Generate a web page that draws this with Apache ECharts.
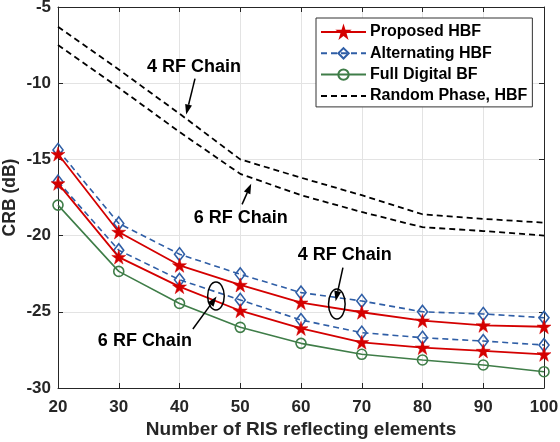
<!DOCTYPE html>
<html><head><meta charset="utf-8">
<script src="https://cdn.jsdelivr.net/npm/echarts@6/dist/echarts.min.js"></script>
<style>html,body{margin:0;padding:0;background:#fff}#c{width:560px;height:442px}</style>
</head><body><div id="c"></div>
<script>
var xValues = [20, 30, 40, 50, 60, 70, 80, 90, 100];
var proposed4 = [-14.65, -19.76, -21.95, -23.24, -24.4, -25.03, -25.58, -25.89, -25.98];
var proposed6 = [-16.57, -21.41, -23.35, -24.93, -26.09, -27.0, -27.35, -27.57, -27.79];
var alternating4 = [-14.38, -19.2, -21.22, -22.54, -23.74, -24.29, -25.0, -25.14, -25.39];
var alternating6 = [-16.46, -20.96, -22.9, -24.22, -25.54, -26.37, -26.7, -26.92, -27.18];
var fullDigital = [-18.0, -22.35, -24.45, -26.02, -27.07, -27.79, -28.16, -28.49, -28.93];
var random4 = [-6.3, -9.1, -12.0, -15.0, -16.2, -17.35, -18.6, -18.9, -19.15];
var random6 = [-7.5, -10.3, -13.2, -15.95, -17.35, -18.45, -19.45, -19.7, -20.0];
var legendNames = ['Proposed HBF', 'Alternating HBF', 'Full Digital BF', 'Random Phase, HBF'];
var xTitle = 'Number of RIS reflecting elements';
var yTitle = 'CRB (dB)';
var annotationText = '4 RF Chain';
var annotationText6 = '6 RF Chain';

function pairs(ys) { return xValues.map(function (x, i) { return [x, ys[i]]; }); }

var RED = '#d40000', BLUE = '#2f5ea6', GREEN = '#3f7d48';
var STAR = 'path://M50,0 L61.8,36.2 L100,36.2 L69.1,58.6 L80.9,95 L50,72.6 L19.1,95 L30.9,58.6 L0,36.2 L38.2,36.2 Z';
var FONT = '"Liberation Sans", Arial, Helvetica, sans-serif';
var TXT = '#262626';

function altSeries(data) {
  return { name: legendNames[1], type: 'line', data: pairs(data), symbol: 'diamond', symbolSize: [10, 13],
    lineStyle: { color: BLUE, width: 1.6, type: [6, 4] },
    itemStyle: { color: 'rgba(255,255,255,0)', borderColor: BLUE, borderWidth: 1.6 }, z: 3 };
}
function propSeries(data) {
  return { name: legendNames[0], type: 'line', data: pairs(data), symbol: STAR, symbolSize: 14,
    lineStyle: { color: RED, width: 1.8 }, itemStyle: { color: RED, borderColor: RED, borderWidth: 0.5 }, z: 4 };
}
function fullSeries(data) {
  return { name: legendNames[2], type: 'line', data: pairs(data), symbol: 'circle', symbolSize: 10,
    lineStyle: { color: GREEN, width: 1.6 }, itemStyle: { color: 'rgba(255,255,255,0)', borderColor: GREEN, borderWidth: 1.6 }, z: 3 };
}
function randSeries(data) {
  return { name: legendNames[3], type: 'line', data: pairs(data), symbol: 'none',
    lineStyle: { color: '#000', width: 1.8, type: [6, 4] }, itemStyle: { color: '#000' }, z: 3 };
}

var chart = echarts.init(document.getElementById('c'), null, { renderer: 'canvas' });
var axisLineStyle = { color: TXT, width: 1 };
chart.setOption({
  animation: false,
  backgroundColor: '#fff',
  grid: { left: 58, right: 16, top: 7, bottom: 54, containLabel: false, outerBoundsMode: 'none' },
  xAxis: [
    { type: 'value', min: 20, max: 100, interval: 10, position: 'bottom',
      name: xTitle, nameLocation: 'middle', nameGap: 32, nameMoveOverlap: false,
      nameTextStyle: { fontFamily: FONT, fontWeight: 'bold', fontSize: 19, color: TXT },
      axisLine: { show: true, onZero: false, lineStyle: axisLineStyle },
      axisTick: { show: true, inside: true, length: 5, lineStyle: axisLineStyle },
      axisLabel: { fontFamily: FONT, fontWeight: 'bold', fontSize: 17, color: TXT, margin: 11 },
      splitLine: { show: true, lineStyle: { color: '#e3e3e3', width: 1 } } },
    { type: 'value', min: 20, max: 100, interval: 10, position: 'top',
      axisLine: { show: true, onZero: false, lineStyle: axisLineStyle },
      axisTick: { show: true, inside: true, length: 5, lineStyle: axisLineStyle },
      axisLabel: { show: false }, splitLine: { show: false } }
  ],
  yAxis: [
    { type: 'value', min: -30, max: -5, interval: 5, position: 'left',
      name: yTitle, nameLocation: 'middle', nameGap: 39, nameRotate: 90, nameMoveOverlap: false,
      nameTextStyle: { fontFamily: FONT, fontWeight: 'bold', fontSize: 17.5, color: TXT },
      axisLine: { show: true, onZero: false, lineStyle: axisLineStyle },
      axisTick: { show: true, inside: true, length: 5, lineStyle: axisLineStyle },
      axisLabel: { fontFamily: FONT, fontWeight: 'bold', fontSize: 17, color: TXT, margin: 7 },
      splitLine: { show: true, lineStyle: { color: '#e3e3e3', width: 1 } } },
    { type: 'value', min: -30, max: -5, interval: 5, position: 'right',
      axisLine: { show: true, onZero: false, lineStyle: axisLineStyle },
      axisTick: { show: true, inside: true, length: 5, lineStyle: axisLineStyle },
      axisLabel: { show: false }, splitLine: { show: false } }
  ],
  legend: {
    data: [legendNames[0], legendNames[1], legendNames[2],
      { name: legendNames[3], itemStyle: { color: 'rgba(0,0,0,0)', borderWidth: 0, opacity: 0 } }],
    orient: 'vertical', left: 316, top: 18,
    itemWidth: 45, itemHeight: 13, itemGap: 5.3,
    padding: [6, 5, 3, 4],
    backgroundColor: '#fff', borderColor: '#333', borderWidth: 1,
    textStyle: { fontFamily: FONT, fontWeight: 'bold', fontSize: 16, color: '#000', padding: [0, 0, 0, -1] },
    selectedMode: false
  },
  series: [
    randSeries(random4), randSeries(random6),
    altSeries(alternating4), altSeries(alternating6),
    fullSeries(fullDigital),
    propSeries(proposed4), propSeries(proposed6)
  ]
});

// annotations in data coordinates
var annotations = [
  { text: annotationText, at: [42.4, -8.94], from: [42.55, -9.7], to: [41.1, -12.05] },
  { text: annotationText6, at: [50.1, -18.85], from: [50.3, -17.95], to: [51.8, -16.6] },
  { text: annotationText, at: [67.2, -21.27], from: [66.9, -22.1], to: [65.7, -24.3], ellipse: [65.9, -24.49, 8.3, 15] },
  { text: annotationText6, at: [34.3, -26.92], from: [42.2, -26.13], to: [46.1, -24.0], ellipse: [46.0, -23.96, 8.3, 14] }
];
var px = function (p) { return chart.convertToPixel({ xAxisIndex: 0, yAxisIndex: 0 }, p); };
var g = [];
annotations.forEach(function (a) {
  var t = px(a.at);
  g.push({ type: 'text', x: t[0], y: t[1], z: 20,
    style: { text: a.text, fontFamily: FONT, fontWeight: 'bold', fontSize: 18, fill: '#000', align: 'center', verticalAlign: 'middle' } });
  var p1 = px(a.from), p2 = px(a.to);
  var dx = p2[0] - p1[0], dy = p2[1] - p1[1], L = Math.sqrt(dx * dx + dy * dy);
  var ux = dx / L, uy = dy / L, hl = 10, hw = 3.5;
  var bx = p2[0] - ux * hl, by = p2[1] - uy * hl;
  g.push({ type: 'line', z: 20, shape: { x1: p1[0], y1: p1[1], x2: bx, y2: by }, style: { stroke: '#000', lineWidth: 1.5 } });
  g.push({ type: 'polygon', z: 20, shape: { points: [[p2[0], p2[1]], [bx - uy * hw, by + ux * hw], [bx + uy * hw, by - ux * hw]] }, style: { fill: '#000' } });
  if (a.ellipse) {
    var c = px([a.ellipse[0], a.ellipse[1]]);
    g.push({ type: 'ellipse', z: 20, shape: { cx: c[0], cy: c[1], rx: a.ellipse[2], ry: a.ellipse[3] }, style: { fill: 'none', stroke: '#000', lineWidth: 1.5 } });
  }
});
chart.setOption({ graphic: g });
</script></body></html>
